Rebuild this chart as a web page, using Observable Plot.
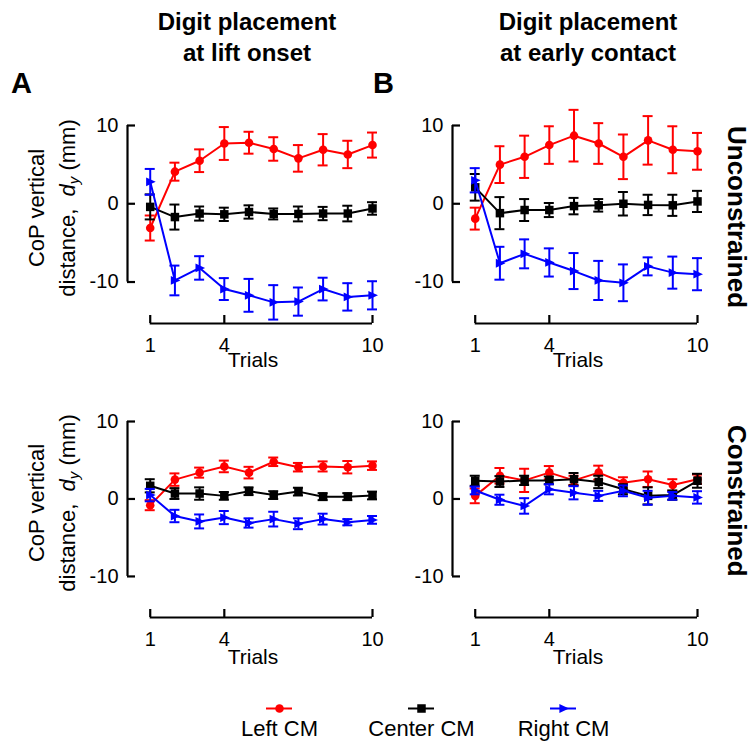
<!DOCTYPE html>
<html><head><meta charset="utf-8">
<script src="https://cdn.jsdelivr.net/npm/d3@7"></script>
<script src="https://cdn.jsdelivr.net/npm/@observablehq/plot@0.6"></script>
<style>
body{margin:0;background:#fff;}
#root{position:relative;width:756px;height:742px;font-family:"Liberation Sans",Arial,sans-serif;color:#000;overflow:hidden;background:#fff;}
.abs{position:absolute;}
.title{font-weight:bold;font-size:24px;line-height:31px;text-align:center;width:320px;white-space:nowrap;}
.letter{font-weight:bold;font-size:29px;line-height:30px;}
.ylab{font-size:22px;line-height:31px;text-align:center;width:240px;height:62px;transform:rotate(-90deg);white-space:nowrap;}
.row{font-weight:bold;font-size:26px;writing-mode:vertical-rl;white-space:nowrap;line-height:30px;}
</style></head><body><div id="root"></div>
<script>
// ---------------- data ----------------
const trials = [1,2,3,4,5,6,7,8,9,10];
const xTicks = [1,4,10];
const yTicks = [-10,0,10];
const seriesNames = ["Left CM","Center CM","Right CM"];
const seriesColors = ["#ff0000","#000000","#0000ff"];
const panelTitles = [["Digit placement","at lift onset"],["Digit placement","at early contact"]];
const panelLetters = ["A","B"];
const rowLabels = ["Unconstrained","Constrained"];
const xLabel = "Trials";

// A: lift onset, unconstrained
const liftUncLeft      = [-3.1, 4.1, 5.5, 7.7, 7.8, 7.0, 5.8, 6.9, 6.3, 7.5];
const liftUncLeftErr   = [1.6, 1.15, 1.45, 2.1, 1.4, 1.5, 1.7, 2.0, 1.75, 1.6];
const liftUncCenter    = [-0.4, -1.7, -1.25, -1.35, -1.05, -1.3, -1.3, -1.25, -1.25, -0.6];
const liftUncCenterErr = [1.6, 1.6, 0.9, 0.85, 0.85, 0.7, 0.95, 0.85, 1.0, 0.8];
const liftUncRight     = [2.8, -9.8, -8.2, -10.9, -11.7, -12.6, -12.5, -10.9, -11.9, -11.7];
const liftUncRightErr  = [1.65, 1.9, 1.5, 1.4, 2.1, 2.2, 1.8, 1.45, 1.75, 1.8];
// B: early contact, unconstrained
const earlyUncLeft      = [-1.9, 5.0, 6.0, 7.5, 8.7, 7.7, 6.0, 8.1, 6.9, 6.7];
const earlyUncLeftErr   = [1.4, 2.35, 2.7, 2.4, 3.3, 2.6, 2.85, 3.1, 3.0, 2.35];
const earlyUncCenter    = [2.1, -1.2, -0.8, -0.8, -0.3, -0.2, 0.0, -0.15, -0.2, 0.3];
const earlyUncCenterErr = [1.7, 2.05, 1.4, 0.9, 1.05, 0.8, 1.5, 1.3, 1.35, 1.35];
const earlyUncRight     = [3.0, -7.6, -6.4, -7.5, -8.6, -9.8, -10.1, -8.0, -8.8, -9.0];
const earlyUncRightErr  = [1.55, 2.1, 1.85, 1.8, 2.3, 2.5, 2.35, 1.15, 2.05, 2.05];
// A: lift onset, constrained
const liftConLeft      = [-0.8, 2.5, 3.4, 4.2, 3.4, 4.8, 4.1, 4.2, 4.1, 4.3];
const liftConLeftErr   = [0.65, 0.8, 0.65, 0.75, 0.75, 0.55, 0.55, 0.65, 0.8, 0.55];
const liftConCenter    = [1.7, 0.7, 0.7, 0.4, 1.0, 0.5, 0.95, 0.3, 0.3, 0.45];
const liftConCenterErr = [0.85, 0.7, 0.8, 0.5, 0.5, 0.5, 0.5, 0.45, 0.45, 0.5];
const liftConRight     = [0.5, -2.2, -2.9, -2.4, -3.1, -2.6, -3.2, -2.6, -3.0, -2.7];
const liftConRightErr  = [0.8, 0.8, 0.9, 0.85, 0.6, 0.95, 0.7, 0.7, 0.4, 0.5];
// B: early contact, constrained
const earlyConLeft      = [0.4, 3.0, 2.4, 3.4, 2.4, 3.4, 2.1, 2.55, 1.8, 2.55];
const earlyConLeftErr   = [0.95, 1.0, 1.5, 0.85, 0.6, 0.9, 0.7, 1.0, 0.75, 0.6];
const earlyConCenter    = [2.35, 2.25, 2.4, 2.4, 2.55, 2.2, 1.25, 0.4, 0.5, 2.35];
const earlyConCenterErr = [0.65, 0.7, 0.6, 0.5, 0.8, 0.8, 0.65, 1.1, 0.6, 0.9];
const earlyConRight     = [1.1, -0.1, -0.9, 1.25, 0.8, 0.4, 1.05, 0.15, 0.4, 0.2];
const earlyConRightErr  = [0.5, 0.65, 1.0, 0.65, 0.85, 0.65, 0.7, 0.9, 0.5, 0.8];

// ---------------- helpers ----------------
const triRight = {draw(ctx, size){ const a = Math.sqrt(size) * 0.62; ctx.moveTo(a, 0); ctx.lineTo(-a*0.75, -a*0.8); ctx.lineTo(-a*0.75, a*0.8); ctx.closePath(); }};
const seriesSymbols = ["circle", "square", triRight];
const seriesR = [4.3, 4.8, 5.0];
const tickFmt = d => (d < 0 ? "-" : "") + Math.abs(d);

function rows(means, errs, k){
  return trials.map((t,i)=>({trial:t, mean:means[i], lo:means[i]-errs[i], hi:means[i]+errs[i], series:seriesNames[k]}));
}
const X0 = 0.08;      // position of the offset y-axis (in trial units)
const YB = -15.3;     // position of the offset x-axis (in mm units)
const FONT = '"Liberation Sans", Arial, sans-serif';

function panel(seriesList, {left, top, width, height, mL, mR, mT, mB, trialsDy}){
  const marks = [
    Plot.ruleX([X0], {y1: yTicks[0], y2: yTicks[yTicks.length-1], strokeWidth: 2.2}),
    Plot.ruleY(yTicks, {y: d=>d, x1: X0, x2: X0, insetRight: -8, strokeWidth: 2.2}),
    Plot.axisY({ticks: yTicks, tickSize: 0, tickPadding: 9, tickFormat: tickFmt, label: null, fontSize: 20}),
    Plot.ruleY([YB], {x1: xTicks[0], x2: xTicks[xTicks.length-1], strokeWidth: 2.2}),
    Plot.ruleX(xTicks, {x: d=>d, y1: YB, y2: YB, insetTop: -8, strokeWidth: 2.2}),
    Plot.axisX({ticks: xTicks, tickSize: 0, tickPadding: 14, tickFormat: tickFmt, label: null, fontSize: 20}),
    Plot.text([xLabel], {frameAnchor: "bottom", dy: trialsDy, dx: 3, text: d=>d, fontSize: 21})
  ];
  seriesList.forEach((s, k) => {
    const c = seriesColors[k];
    marks.push(
      Plot.line(s, {x: "trial", y: "mean", stroke: c, strokeWidth: 2}),
      Plot.ruleX(s, {x: "trial", y1: "lo", y2: "hi", stroke: c, strokeWidth: 2}),
      Plot.ruleY(s, {y: "hi", x1: "trial", x2: "trial", insetLeft: -5, insetRight: -5, stroke: c, strokeWidth: 2}),
      Plot.ruleY(s, {y: "lo", x1: "trial", x2: "trial", insetLeft: -5, insetRight: -5, stroke: c, strokeWidth: 2}),
      Plot.dot(s, {x: "trial", y: "mean", symbol: seriesSymbols[k], r: seriesR[k], fill: c, stroke: "none"})
    );
  });
  const svg = Plot.plot({
    width, height, marginLeft: mL, marginRight: mR, marginTop: mT, marginBottom: mB,
    x: {domain: [X0, 10]}, y: {domain: [YB, 10]},
    style: {fontFamily: FONT, fontSize: "20px", color: "#000", background: "transparent", overflow: "visible"},
    marks
  });
  svg.style.position = "absolute"; svg.style.left = left + "px"; svg.style.top = top + "px";
  return svg;
}

const root = document.getElementById("root");
function addDiv(cls, html, css){ const d = document.createElement("div"); d.className = "abs " + cls; d.innerHTML = html; Object.assign(d.style, css); root.appendChild(d); return d; }

const topGeom = {top: 95, height: 290, mT: 30, mB: 62, trialsDy: 43};
const botGeom = {top: 390, height: 300, mT: 31, mB: 73, trialsDy: 46};
const colA = {left: 0, width: 378, mL: 127, mR: 6};
const colB = {left: 378, width: 378, mL: 74, mR: 59};

const panels = [
  [[rows(liftUncLeft, liftUncLeftErr, 0), rows(liftUncCenter, liftUncCenterErr, 1), rows(liftUncRight, liftUncRightErr, 2)], colA, topGeom],
  [[rows(earlyUncLeft, earlyUncLeftErr, 0), rows(earlyUncCenter, earlyUncCenterErr, 1), rows(earlyUncRight, earlyUncRightErr, 2)], colB, topGeom],
  [[rows(liftConLeft, liftConLeftErr, 0), rows(liftConCenter, liftConCenterErr, 1), rows(liftConRight, liftConRightErr, 2)], colA, botGeom],
  [[rows(earlyConLeft, earlyConLeftErr, 0), rows(earlyConCenter, earlyConCenterErr, 1), rows(earlyConRight, earlyConRightErr, 2)], colB, botGeom]
];
panels.forEach(([s, c, g]) => root.appendChild(panel(s, {...c, ...g})));

// titles and letters
addDiv("title", panelTitles[0].join("<br>"), {left: (247-160)+"px", top: "6px"});
addDiv("title", panelTitles[1].join("<br>"), {left: (588-160)+"px", top: "6px"});
addDiv("letter", panelLetters[0], {left: "11px", top: "68px"});
addDiv("letter", panelLetters[1], {left: "373px", top: "68px"});

// y-axis labels
const yLabHtml = 'CoP vertical<br>distance, &nbsp;<i>d</i><sub style="font-size:15px;vertical-align:-4px"><i>y</i></sub> (mm)';
addDiv("ylab", yLabHtml, {left: (52-120)+"px", top: (208-31)+"px"});
addDiv("ylab", yLabHtml, {left: (52-120)+"px", top: (503-31)+"px"});

// row labels
addDiv("row", rowLabels[0], {left: "722px", top: "126px"});
addDiv("row", rowLabels[1], {left: "722px", top: "425px"});

// legend
const legendRows = seriesNames.map((n,k)=>({name:n, k}));
const legend = Plot.plot({
  width: 756, height: 52, margin: 0,
  x: {type: "point", domain: seriesNames, range: [279, 563], padding: 0},
  y: {domain: [0, 1], range: [38, 18]},
  axis: null,
  style: {fontFamily: FONT, fontSize: "22px", color: "#000", background: "transparent", overflow: "visible"},
  marks: [
    Plot.ruleY(legendRows, {y: 1, x1: "name", x2: "name", insetLeft: -13, insetRight: -13, stroke: d=>seriesColors[d.k], strokeWidth: 2}),
    ...legendRows.map(d => Plot.dot([d], {x: "name", y: 1, symbol: seriesSymbols[d.k], r: seriesR[d.k], fill: seriesColors[d.k], stroke: "none"})),
    Plot.text(legendRows, {x: "name", y: 0, text: "name", fontSize: 22})
  ]
});
legend.style.position = "absolute"; legend.style.left = "0px"; legend.style.top = "690px";
root.appendChild(legend);
</script></body></html>
